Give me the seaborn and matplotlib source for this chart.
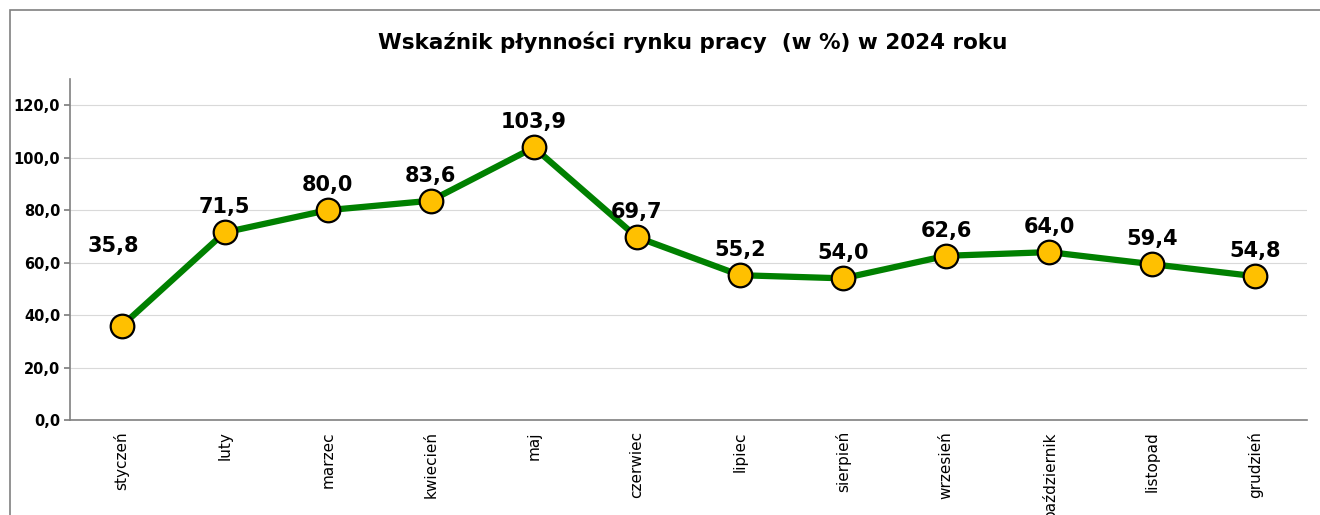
import matplotlib
matplotlib.use("Agg")
import matplotlib.pyplot as plt
import numpy as np
import pandas as pd
import seaborn as sns
from matplotlib.patches import Rectangle

MONTHS = [
    "styczeń", "luty", "marzec", "kwiecień", "maj", "czerwiec",
    "lipiec", "sierpień", "wrzesień", "październik", "listopad", "grudzień",
]
VALUES = [35.8, 71.5, 80.0, 83.6, 103.9, 69.7, 55.2, 54.0, 62.6, 64.0, 59.4, 54.8]
Y_TICKS = [0, 20, 40, 60, 80, 100, 120]
TITLE = "Wskaźnik płynności rynku pracy  (w %) w 2024 roku"


def fmt(v: float) -> str:
    return f"{v:.1f}".replace(".", ",")


sns.set_theme(style="white")
plt.rcParams["font.family"] = ["DejaVu Sans"]
plt.rcParams["text.color"] = "black"
plt.rcParams["xtick.color"] = "black"
plt.rcParams["ytick.color"] = "black"

df = pd.DataFrame({"miesiac": MONTHS, "wartosc": VALUES})
df["pos"] = np.arange(len(df))

fig = plt.figure(figsize=(13.2, 5.15), dpi=100)
fig.patches.append(
    Rectangle((10 / 1320, -0.1), 1.2, 0.1 + (515 - 10) / 515, transform=fig.transFigure,
              fill=False, edgecolor="#808080", linewidth=1.2)
)
ax = fig.add_axes([70 / 1320, 95 / 515, 1237 / 1320, 341 / 515])

sns.lineplot(data=df, x="pos", y="wartosc", color="#008000", linewidth=4.5,
             marker="o", markersize=17, markerfacecolor="#FFC000",
             markeredgecolor="black", markeredgewidth=1.6, ax=ax)

for i, v in enumerate(VALUES):
    dx, dy = (-6, 58) if i == 0 else (0, 18)
    ax.annotate(fmt(v), (i, v), xytext=(dx, dy), textcoords="offset points",
                ha="center", va="center", fontsize=15, fontweight="bold",
                color="black")

ax.set_xlim(-0.5, len(MONTHS) - 0.5)
ax.set_ylim(0, 130)
ax.set_yticks(Y_TICKS)
ax.set_yticklabels([fmt(t) for t in Y_TICKS], fontsize=10.5, fontweight="bold")
ax.set_xticks(np.arange(len(MONTHS)))
ax.set_xticklabels(MONTHS, rotation=90, fontsize=11)
ax.set_xticks(np.arange(len(MONTHS) + 1) - 0.5, minor=True)
ax.tick_params(axis="x", which="major", length=0, pad=8)
ax.tick_params(axis="x", which="minor", length=5, color="#808080", direction="out")
ax.tick_params(axis="y", length=4, color="#808080", direction="out", left=True, pad=3)
ax.set_xlabel("")
ax.set_ylabel("")
ax.grid(axis="y", color="#d9d9d9", linewidth=0.8)
ax.set_axisbelow(True)
for side in ["top", "right"]:
    ax.spines[side].set_visible(False)
for side in ["left", "bottom"]:
    ax.spines[side].set_color("#808080")
    ax.spines[side].set_linewidth(1.2)

fig.text(693 / 1320, 1 - 42 / 515, TITLE, ha="center", va="center",
         fontsize=15.5, fontweight="bold")

fig.savefig("out.png", dpi=100)
